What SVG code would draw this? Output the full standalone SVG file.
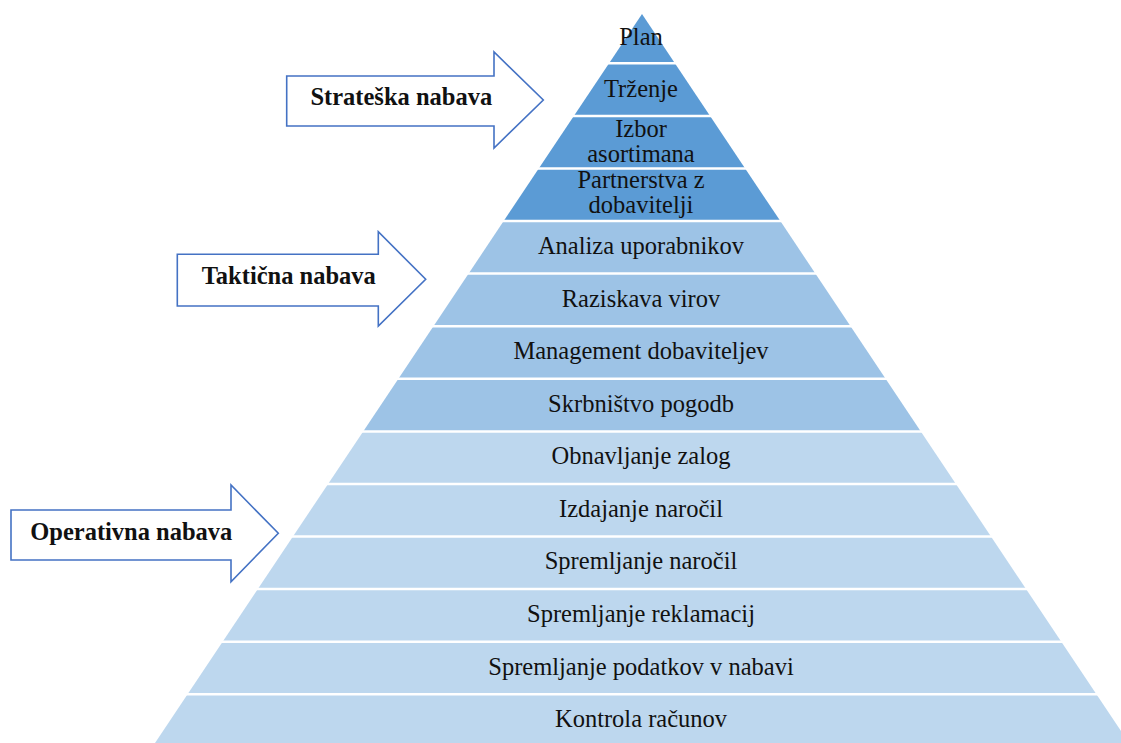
<svg xmlns="http://www.w3.org/2000/svg" width="1121" height="743" viewBox="0 0 1121 743">
  <style>
    .lbl { font-family: "Liberation Serif", "Times New Roman", serif; font-size: 24.5px; fill: #111; text-anchor: middle; }
    .tag { font-family: "Liberation Serif", "Times New Roman", serif; font-size: 24.5px; font-weight: bold; fill: #111; text-anchor: middle; }
    .arrow { fill: #ffffff; stroke: #4472C4; stroke-width: 1.6; stroke-linejoin: miter; }
    .dark { fill: #5B9BD5; }
    .mid { fill: #9DC3E6; }
    .light { fill: #BDD7EE; }
    .gap { stroke: #ffffff; stroke-width: 2.5; }
  </style>
  <rect width="1121" height="743" fill="#ffffff"/>

  <!-- pyramid tiers: apex (642,14), half-width = 0.668 * (y - 14) -->
  <g id="tier-strategic">
    <polygon class="dark" points="642,14 780.34,221.1 503.66,221.1"/>
  </g>
  <g id="tier-tactical">
    <polygon class="mid" points="503.66,221.1 780.34,221.1 920.82,431.4 363.18,431.4"/>
  </g>
  <g id="tier-operational">
    <polygon class="light" points="363.18,431.4 920.82,431.4 1128.97,743 155.03,743"/>
  </g>

  <!-- white separators between levels -->
  <g id="separators" class="gap">
    <line x1="600" y1="63.3" x2="684" y2="63.3"/>
    <line x1="565" y1="115.9" x2="719" y2="115.9"/>
    <line x1="530" y1="168.5" x2="754" y2="168.5"/>
    <line x1="495" y1="221.1" x2="789" y2="221.1"/>
    <line x1="460" y1="273.6" x2="824" y2="273.6"/>
    <line x1="425" y1="326.2" x2="859" y2="326.2"/>
    <line x1="390" y1="378.8" x2="894" y2="378.8"/>
    <line x1="355" y1="431.4" x2="929" y2="431.4"/>
    <line x1="320" y1="484.0" x2="964" y2="484.0"/>
    <line x1="285" y1="536.5" x2="999" y2="536.5"/>
    <line x1="250" y1="589.1" x2="1034" y2="589.1"/>
    <line x1="215" y1="641.7" x2="1069" y2="641.7"/>
    <line x1="180" y1="694.3" x2="1104" y2="694.3"/>
  </g>

  <!-- level labels -->
  <g id="level-plan"><text class="lbl" x="641" y="45">Plan</text></g>
  <g id="level-trzenje"><text class="lbl" x="641" y="96.7">Trženje</text></g>
  <g id="level-izbor"><text class="lbl" x="641" y="136.7">Izbor</text><text class="lbl" x="641" y="161.7">asortimana</text></g>
  <g id="level-partnerstva"><text class="lbl" x="641" y="188.3">Partnerstva z</text><text class="lbl" x="641" y="213.3">dobavitelji</text></g>
  <g id="level-analiza"><text class="lbl" x="641" y="254">Analiza uporabnikov</text></g>
  <g id="level-raziskava"><text class="lbl" x="641" y="306.5">Raziskava virov</text></g>
  <g id="level-management"><text class="lbl" x="641" y="358.5">Management dobaviteljev</text></g>
  <g id="level-skrbnistvo"><text class="lbl" x="641" y="411.6">Skrbništvo pogodb</text></g>
  <g id="level-obnavljanje"><text class="lbl" x="641" y="464.2">Obnavljanje zalog</text></g>
  <g id="level-izdajanje"><text class="lbl" x="641" y="516.8">Izdajanje naročil</text></g>
  <g id="level-spremljanje-narocil"><text class="lbl" x="641" y="569.3">Spremljanje naročil</text></g>
  <g id="level-reklamacije"><text class="lbl" x="641" y="621.9">Spremljanje reklamacij</text></g>
  <g id="level-podatki"><text class="lbl" x="641" y="675">Spremljanje podatkov v nabavi</text></g>
  <g id="level-kontrola"><text class="lbl" x="641" y="726.7">Kontrola računov</text></g>

  <!-- block arrows naming the procurement levels -->
  <g id="arrow-strateska">
    <path class="arrow" d="M286.7,76 H494 V52 L543.3,100 L494,148 V126 H286.7 Z"/>
    <text class="tag" x="401.3" y="105">Strateška nabava</text>
  </g>
  <g id="arrow-takticna">
    <path class="arrow" d="M177.3,254.3 H378.3 V231.7 L425.7,279.3 L378.3,326 V306 H177.3 Z"/>
    <text class="tag" x="288.8" y="284.3">Taktična nabava</text>
  </g>
  <g id="arrow-operativna">
    <path class="arrow" d="M11,510 H231 V485 L278.3,533.3 L231,581.7 V560 H11 Z"/>
    <text class="tag" x="131.3" y="540">Operativna nabava</text>
  </g>

  <g id="connectors"/>
</svg>
